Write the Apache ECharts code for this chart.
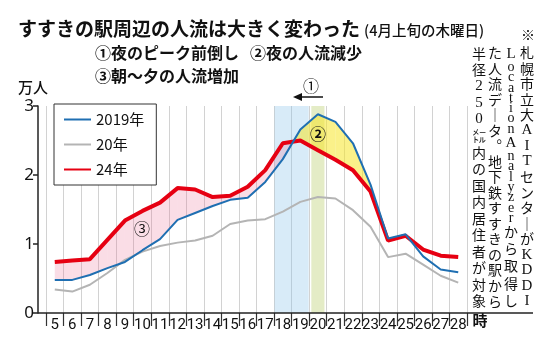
<!DOCTYPE html>
<html>
<head>
<meta charset="utf-8">
<script src="https://cdn.jsdelivr.net/npm/echarts@6/dist/echarts.min.js"></script>
<style>
  html, body { margin: 0; padding: 0; background: #fff; }
  #chart { width: 550px; height: 352px; }
</style>
</head>
<body>
<div id="chart"></div>
<script>
// 時間帯（5時〜28時）
var hours = ['5', '6', '7', '8', '9', '10', '11', '12', '13', '14', '15', '16',
  '17', '18', '19', '20', '21', '22', '23', '24', '25', '26', '27', '28'];

// 人流（万人）
var y2019 = [0.48, 0.48, 0.55, 0.65, 0.74, 0.91, 1.07, 1.35, 1.45, 1.55, 1.64, 1.67,
  1.90, 2.23, 2.66, 2.88, 2.77, 2.46, 1.86, 1.08, 1.14, 0.82, 0.63, 0.59];
var y2020 = [0.34, 0.31, 0.41, 0.58, 0.77, 0.89, 0.97, 1.02, 1.05, 1.12, 1.29, 1.34,
  1.36, 1.47, 1.61, 1.68, 1.66, 1.49, 1.25, 0.81, 0.86, 0.70, 0.54, 0.44];
var y2024 = [0.74, 0.76, 0.78, 1.06, 1.34, 1.48, 1.60, 1.81, 1.79, 1.68, 1.70, 1.83,
  2.07, 2.46, 2.50, 2.36, 2.22, 2.07, 1.76, 1.05, 1.12, 0.92, 0.83, 0.81];

var seriesNames = ['2019年', '20年', '24年'];
var yMin = 0, yMax = 3, yStep = 1;

// 強調する時間帯
var peakHours = ['18', '19'];
var dropHours = ['20'];
// 塗り分けする範囲（5時〜24時）
var fillFrom = '5', fillTo = '24';

// 出典（縦書き、長音は縦棒で）
var noteLines = [
  '札幌市立大AITセンタ｜がKDDI',
  'LocationAnalyzerから取得し',
  'た人流デ｜タ︒地下鉄すすきの駅から',
  '半径250㍍内の国内居住者が対象'
];

var CJK = '"Noto Sans CJK JP"';

var chart = echarts.init(document.getElementById('chart'));

// 2本の線の間を塗る（24年が上なら桃色、19年が上なら黄色）
var gapData = [];
for (var i = hours.indexOf(fillFrom); i < hours.indexOf(fillTo); i++) {
  gapData.push([i, y2024[i], y2019[i], y2024[i + 1], y2019[i + 1]]);
}
var pink = 'rgba(230,100,140,0.22)';
var yellow = 'rgba(245,230,40,0.55)';

function renderGap(params, api) {
  var i = api.value(0);
  var r0 = api.value(1), b0 = api.value(2), r1 = api.value(3), b1 = api.value(4);
  var pr0 = api.coord([i, r0]), pb0 = api.coord([i, b0]);
  var pr1 = api.coord([i + 1, r1]), pb1 = api.coord([i + 1, b1]);
  var d0 = r0 - b0, d1 = r1 - b1;
  var kids = [];
  function poly(pts, c) {
    kids.push({ type: 'polygon', shape: { points: pts }, style: { fill: c } });
  }
  if (d0 * d1 >= 0) {
    poly([pr0, pr1, pb1, pb0], d0 + d1 >= 0 ? pink : yellow);
  } else {
    var t = d0 / (d0 - d1);
    var pc = [pr0[0] + (pr1[0] - pr0[0]) * t, pr0[1] + (pr1[1] - pr0[1]) * t];
    poly([pr0, pc, pb0], d0 > 0 ? pink : yellow);
    poly([pc, pr1, pb1], d1 > 0 ? pink : yellow);
  }
  return { type: 'group', children: kids };
}

// 縦の帯
var bandData = [
  [hours.indexOf(peakHours[0]), 0, hours.indexOf(peakHours[1]), 0.95],
  [hours.indexOf(dropHours[0]), 0, hours.indexOf(dropHours[0]), 0.75]
];
var bandColors = ['rgba(140,195,235,0.34)', 'rgba(190,210,120,0.42)'];

function renderBand(params, api) {
  var bw = api.size([1, 0])[0] * api.value(3);
  var top = api.coord([api.value(0), yMax]);
  var bot = api.coord([api.value(2), yMin]);
  return {
    type: 'rect',
    shape: { x: top[0] - bw / 2, y: top[1], width: bot[0] - top[0] + bw, height: bot[1] - top[1] },
    style: { fill: bandColors[params.dataIndex] }
  };
}

// 縦書きテキスト
function tate(str, x) {
  var chars = str.split('');
  var sum = 0;
  chars.forEach(function (c) { sum += /[a-z]/.test(c) ? 0.6 : 1; });
  var unit = 264 / sum;
  var text = chars.map(function (c) {
    var k = /[a-z]/.test(c) ? 'h' : (/[A-Z0-9]/.test(c) ? 'w' : 'f');
    return '{' + k + '|' + c + '}';
  }).join('\n');
  return {
    type: 'text', x: x, y: 45, z: 20,
    style: {
      text: text, align: 'center', verticalAlign: 'top', fill: '#111',
      rich: {
        f: { fontSize: 14, lineHeight: unit, fontFamily: CJK, fill: '#111' },
        w: { fontSize: 15, lineHeight: unit, fontFamily: '"Liberation Serif"', fill: '#111' },
        h: { fontSize: 14, lineHeight: unit * 0.6, fontFamily: '"Liberation Serif"', fill: '#111' }
      }
    }
  };
}

var option = {
  animation: false,
  backgroundColor: '#fff',
  textStyle: { fontFamily: CJK },
  grid: { left: 46, right: 83, top: 106, bottom: 39 },
  legend: {
    data: seriesNames,
    orient: 'vertical',
    left: 54, top: 104,
    backgroundColor: '#fff',
    borderColor: '#333', borderWidth: 1,
    padding: [8, 12, 8, 9],
    itemWidth: 27, itemHeight: 14, itemGap: 10,
    itemStyle: { opacity: 0 },
    textStyle: { fontSize: 15, color: '#111', fontFamily: CJK }
  },
  xAxis: {
    type: 'category',
    data: hours,
    boundaryGap: true,
    offset: 4,
    axisLine: { show: false },
    axisTick: { show: true, interval: 0, length: 13, lineStyle: { color: '#333', width: 1.2 } },
    axisLabel: { interval: 0, margin: 1, fontSize: 15, color: '#111', fontFamily: 'Roboto' },
    splitLine: { show: true, interval: 0, lineStyle: { color: '#d2d2d2', width: 1 } },
    name: '時', nameLocation: 'end', nameGap: 2,
    nameTextStyle: { fontSize: 15, color: '#111', verticalAlign: 'top', align: 'left', fontWeight: 'bold' }
  },
  yAxis: {
    type: 'value',
    min: yMin, max: yMax, interval: yStep,
    offset: 8,
    axisLine: { show: true, lineStyle: { color: '#222', width: 1.5 } },
    axisTick: { show: true, length: 5, lineStyle: { color: '#222', width: 1.5 } },
    axisLabel: { fontSize: 17, color: '#111', fontFamily: '"Noto Sans"', margin: 4 },
    splitLine: { show: false },
    name: '万人', nameLocation: 'end', nameGap: 11,
    nameTextStyle: { fontSize: 15, color: '#111', align: 'center', padding: [0, 10, 0, 0], fontWeight: 500 }
  },
  series: [
    { type: 'custom', name: 'band', renderItem: renderBand, data: bandData, z: 1, silent: true, encode: { x: 0, y: 1 } },
    { type: 'custom', name: 'gap', renderItem: renderGap, data: gapData, z: 2, silent: true, encode: { x: 0, y: 1 } },
    { type: 'line', name: seriesNames[1], data: y2020, symbol: 'none', z: 3,
      lineStyle: { color: '#b4b4b4', width: 2 }, itemStyle: { color: '#b4b4b4' } },
    { type: 'line', name: seriesNames[2], data: y2024, symbol: 'none', z: 4,
      lineStyle: { color: '#e60012', width: 4 }, itemStyle: { color: '#e60012' } },
    { type: 'line', name: seriesNames[0], data: y2019, symbol: 'none', z: 5,
      lineStyle: { color: '#1f6fb2', width: 2 }, itemStyle: { color: '#1f6fb2' } }
  ],
  graphic: [
    { type: 'text', x: 18, y: 29, style: { text: 'すすきの駅周辺の人流は大きく変わった', fontSize: 19, fontWeight: 'bold', fontFamily: CJK, fill: '#111', verticalAlign: 'middle' } },
    { type: 'text', x: 364, y: 30, style: { text: '(4月上旬の木曜日)', fontSize: 14.5, fontWeight: 500, fontFamily: CJK, fill: '#111', verticalAlign: 'middle' } },
    { type: 'text', x: 95, y: 53, style: { text: '①夜のピーク前倒し', fontSize: 16, fontWeight: 'bold', fontFamily: CJK, fill: '#111', verticalAlign: 'middle' } },
    { type: 'text', x: 250, y: 53, style: { text: '②夜の人流減少', fontSize: 16, fontWeight: 'bold', fontFamily: CJK, fill: '#111', verticalAlign: 'middle' } },
    { type: 'text', x: 95, y: 76, style: { text: '③朝～夕の人流増加', fontSize: 16, fontWeight: 'bold', fontFamily: CJK, fill: '#111', verticalAlign: 'middle' } },
    { type: 'text', x: 311, y: 86, style: { text: '①', fontSize: 16, fontFamily: CJK, fill: '#111', align: 'center', verticalAlign: 'middle' } },
    { type: 'line', shape: { x1: 300, y1: 97, x2: 323, y2: 97 }, style: { stroke: '#111', lineWidth: 1.5 } },
    { type: 'polygon', shape: { points: [[293, 97], [302, 93], [302, 101]] }, style: { fill: '#111' } },
    { type: 'text', x: 318, y: 134, z: 10, style: { text: '②', fontSize: 16, fontWeight: 'bold', fontFamily: CJK, fill: '#111', align: 'center', verticalAlign: 'middle' } },
    { type: 'text', x: 142, y: 229, z: 10, style: { text: '③', fontSize: 16, fontFamily: CJK, fill: '#111', align: 'center', verticalAlign: 'middle' } },
    { type: 'text', x: 528, y: 35, style: { text: '※', fontSize: 14, fontFamily: CJK, fill: '#111', align: 'center', verticalAlign: 'middle' } },
    tate(noteLines[0], 527),
    tate(noteLines[1], 511),
    tate(noteLines[2], 495),
    tate(noteLines[3], 479),
    { type: 'line', z: 30, shape: { x1: 38, y1: 313, x2: 533, y2: 313 }, style: { stroke: '#222', lineWidth: 1.5 } }
  ]
};

chart.setOption(option);
</script>
</body>
</html>
